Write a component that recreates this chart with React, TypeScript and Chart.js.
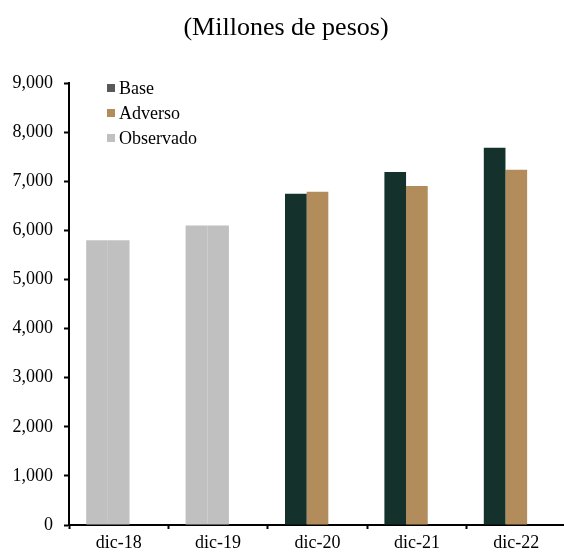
import React, { useEffect, useRef } from "react";
import { Chart, registerables } from "chart.js";

Chart.register(...registerables);

const titleText = "(Millones de pesos)";
const categories = ["dic-18", "dic-19", "dic-20", "dic-21", "dic-22"];
const observado: (number | null)[] = [5800, 6100, null, null, null];
const base: (number | null)[] = [null, null, 6745, 7190, 7680];
const adverso: (number | null)[] = [null, null, 6785, 6905, 7235];
const yTicks = [0, 1000, 2000, 3000, 4000, 5000, 6000, 7000, 8000, 9000];

const COLOR_BASE = "#14322B";
const COLOR_ADV = "#B28D5B";
const COLOR_OBS = "#C0C0C0";
const LEGEND_BASE = "#595959";
const FONT = "'Liberation Serif', 'Times New Roman', serif";

const overlayPlugin = {
  id: "overlay",
  afterDraw(chart: any) {
    const ctx = chart.ctx;
    ctx.save();
    ctx.fillStyle = "#000";
    ctx.font = `26px ${FONT}`;
    ctx.textAlign = "center";
    ctx.textBaseline = "alphabetic";
    ctx.fillText(titleText, 286, 35);

    ctx.font = `18px ${FONT}`;
    ctx.textAlign = "left";
    chart.data.datasets.forEach((ds: any, i: number) => {
      const y = 84 + i * 25;
      ctx.fillStyle = ds.legendColor;
      ctx.fillRect(107, y, 8, 8);
      ctx.fillStyle = "#000";
      ctx.fillText(ds.label, 119, y + 10);
    });
    ctx.restore();
  },
};

export default function App() {
  const ref = useRef<HTMLCanvasElement>(null);
  useEffect(() => {
    if (!ref.current) return;
    const baseData = categories.map((_, i) => base[i] ?? observado[i]);
    const advData = categories.map((_, i) => adverso[i] ?? observado[i]);
    const baseColors = categories.map((_, i) => (observado[i] != null ? COLOR_OBS : COLOR_BASE));
    const advColors = categories.map((_, i) => (observado[i] != null ? COLOR_OBS : COLOR_ADV));
    const chart = new Chart(ref.current, {
      type: "bar",
      data: {
        labels: categories,
        datasets: [
          { label: "Base", data: baseData, backgroundColor: baseColors, legendColor: LEGEND_BASE } as any,
          { label: "Adverso", data: advData, backgroundColor: advColors, legendColor: COLOR_ADV } as any,
          { label: "Observado", data: categories.map(() => null), backgroundColor: COLOR_OBS, legendColor: COLOR_OBS } as any,
        ],
      },
      options: {
        responsive: false,
        animation: false,
        datasets: { bar: { categoryPercentage: 0.654, barPercentage: 1 } },
        layout: { padding: { top: 83, left: 0, right: 4, bottom: 0 } },
        plugins: { legend: { display: false }, tooltip: { enabled: false }, title: { display: false } },
        scales: {
          x: {
            offset: true,
            grid: { display: true, drawOnChartArea: false, drawTicks: true, tickLength: 4, tickWidth: 2, color: "#000", offset: true },
            border: { display: true, color: "#000", width: 2 },
            ticks: { color: "#000", font: { family: FONT, size: 18 }, padding: 3, maxRotation: 0 },
            afterFit: (s: any) => { s.height = 29; },
          },
          y: {
            min: 0,
            max: 9000,
            afterBuildTicks: (s: any) => { s.ticks = yTicks.map((v) => ({ value: v })); },
            grid: { display: true, drawOnChartArea: false, drawTicks: true, tickLength: 5, tickWidth: 2, color: "#000" },
            border: { display: true, color: "#000", width: 2 },
            ticks: {
              color: "#000",
              font: { family: FONT, size: 18 },
              padding: 11,
              callback: (v: any) => Number(v).toLocaleString("en-US"),
            },
            afterFit: (s: any) => { s.width = 69; },
          },
        },
      },
      plugins: [overlayPlugin],
    });
    return () => chart.destroy();
  }, []);
  return (
    <div style={{ position: "fixed", left: 0, top: 0, width: 564, height: 554, overflow: "hidden", background: "#fff" }}>
      <canvas ref={ref} width={570} height={554} style={{ display: "block" }} />
    </div>
  );
}
